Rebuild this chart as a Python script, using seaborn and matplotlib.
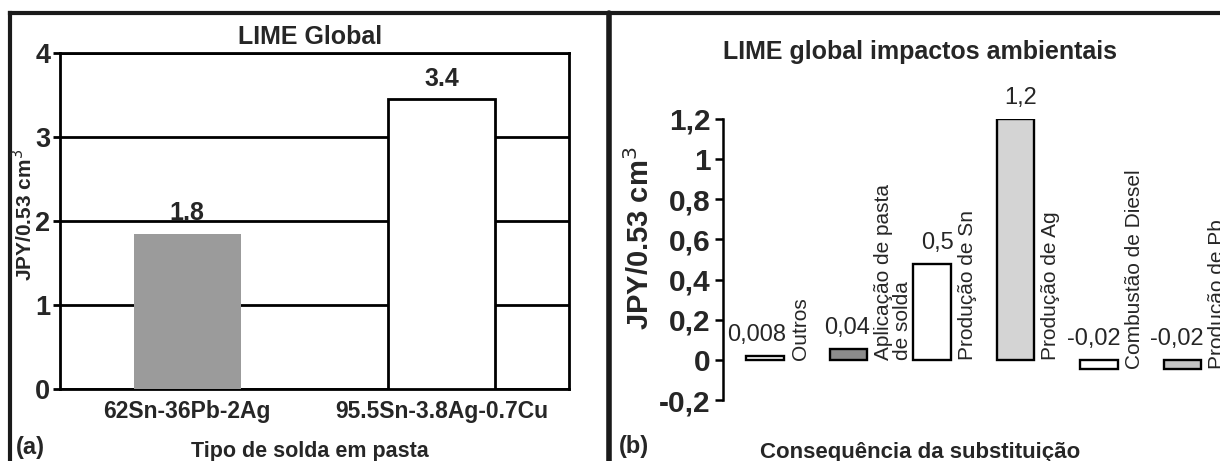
import matplotlib
matplotlib.use("Agg")
import matplotlib.pyplot as plt
from matplotlib.lines import Line2D
import seaborn as sns
import pandas as pd

# ---------------- data ----------------
left_categories = ["62Sn-36Pb-2Ag", "95.5Sn-3.8Ag-0.7Cu"]
left_values = [1.85, 3.45]
left_value_labels = ["1.8", "3.4"]
left_colors = ["#9b9b9b", "#ffffff"]
left_yticks = [0, 1, 2, 3, 4]
left_yticklabels = ["0", "1", "2", "3", "4"]

right_categories = ["Outros", "Aplicação de pasta\nde solda", "Produção de Sn",
                    "Produção de Ag", "Combustão de Diesel", "Produção de Pb"]
right_values = [0.02, 0.055, 0.48, 1.2, -0.045, -0.045]
right_value_labels = ["0,008", "0,04", "0,5", "1,2", "-0,02", "-0,02"]
right_colors = ["#ffffff", "#8c8c8c", "#ffffff", "#d4d4d4", "#ffffff", "#c4c4c4"]
right_yticks = [-0.2, 0, 0.2, 0.4, 0.6, 0.8, 1.0, 1.2]
right_yticklabels = ["-0,2", "0", "0,2", "0,4", "0,6", "0,8", "1", "1,2"]

sns.set_theme(style="white")
plt.rcParams["font.family"] = ["Liberation Sans", "DejaVu Sans"]

W, H = 1220, 461
fig = plt.figure(figsize=(W / 100, H / 100), dpi=100)
fig.patch.set_facecolor("white")


def fx(px):
    return px / W


def fy(py):
    return 1 - py / H


# ---------------- left panel ----------------
axL = fig.add_axes([fx(60), fy(389), fx(569 - 60), (389 - 53) / H])
dfL = pd.DataFrame({"cat": left_categories, "val": left_values})
sns.barplot(data=dfL, x="cat", y="val", hue="cat", order=left_categories,
            palette=dict(zip(left_categories, left_colors)), legend=False,
            width=0.42, ax=axL, zorder=3)
for p, c in zip(axL.patches, left_colors):
    if c == "#ffffff":
        p.set_edgecolor("black")
        p.set_linewidth(2.0)
    else:
        p.set_edgecolor(c)
        p.set_linewidth(0)
axL.set_xlim(-0.5, 1.5)
axL.set_ylim(0, 4)
axL.set_yticks(left_yticks)
axL.set_yticklabels(left_yticklabels, fontsize=19.5, fontweight="bold")
axL.yaxis.grid(True, color="black", linewidth=2.0)
axL.set_axisbelow(True)
for s in axL.spines.values():
    s.set_color("black")
    s.set_linewidth(2.0)
axL.tick_params(axis="y", length=5, width=2, color="black", pad=2, left=True)
axL.tick_params(axis="x", length=0, pad=8)
for t in axL.get_xticklabels():
    t.set_fontsize(16.5)
    t.set_fontweight("bold")
axL.set_xlabel("")
axL.set_ylabel("")
for i, (v, lab) in enumerate(zip(left_values, left_value_labels)):
    axL.annotate(lab, (i, v), xytext=(0, 6), textcoords="offset points",
                 ha="center", va="bottom", fontsize=18, fontweight="bold")

fig.text(fx(310), fy(37), "LIME Global", ha="center", va="center",
         fontsize=18, fontweight="bold")
fig.text(fx(24), fy(215), "JPY/0.53 cm$^{3}$", rotation=90, ha="center",
         va="center", fontsize=15, fontweight="bold")
fig.text(fx(310), fy(451), "Tipo de solda em pasta", ha="center", va="center",
         fontsize=15.5, fontweight="bold")
fig.text(fx(30), fy(447), "(a)", ha="center", va="center", fontsize=17,
         fontweight="bold")

# ---------------- right panel ----------------
axR = fig.add_axes([fx(723), fy(400), fx(1220 - 723), (400 - 119) / H])
dfR = pd.DataFrame({"cat": right_categories, "val": right_values})
bar_w = 0.45
sns.barplot(data=dfR, x="cat", y="val", hue="cat", order=right_categories,
            palette=dict(zip(right_categories, right_colors)), legend=False,
            width=bar_w, ax=axR, edgecolor="black", linewidth=1.7, zorder=3)
axR.set_xlim(-0.5, 5.45)
axR.set_ylim(-0.2, 1.2)
axR.set_yticks(right_yticks)
axR.set_yticklabels(right_yticklabels, fontsize=21.5, fontweight="bold")
axR.set_xticks([])
axR.set_xlabel("")
axR.set_ylabel("")
for k in ["top", "right", "bottom"]:
    axR.spines[k].set_visible(False)
axR.spines["left"].set_color("black")
axR.spines["left"].set_linewidth(1.8)
axR.tick_params(axis="y", length=6, width=1.8, color="black", pad=3, left=True)
axR.patch.set_alpha(0)

for i, (v, lab, cat) in enumerate(zip(right_values, right_value_labels, right_categories)):
    axR.annotate(lab, (i + bar_w / 2, max(v, 0)), xytext=(2, 7),
                 textcoords="offset points", ha="right", va="bottom",
                 fontsize=17, annotation_clip=False)
    axR.annotate(cat, (i + bar_w / 2, min(v, 0)), xytext=(5, 0),
                 textcoords="offset points", rotation=90, ha="left",
                 va="bottom", multialignment="left", fontsize=15,
                 linespacing=1.0, annotation_clip=False)

fig.text(fx(920), fy(52), "LIME global impactos ambientais", ha="center",
         va="center", fontsize=18, fontweight="bold")
fig.text(fx(640), fy(238), "JPY/0.53 cm$^{3}$", rotation=90, ha="center",
         va="center", fontsize=21, fontweight="bold")
fig.text(fx(920), fy(452), "Consequência da substituição", ha="center",
         va="center", fontsize=16, fontweight="bold")
fig.text(fx(634), fy(446), "(b)", ha="center", va="center", fontsize=17,
         fontweight="bold")

# ---------------- panel frames ----------------
frame_kw = dict(color="#1a1a1a", linewidth=3.0, transform=fig.transFigure,
                solid_capstyle="projecting")
fig.add_artist(Line2D([fx(10), fx(1220)], [fy(13.5), fy(13.5)], **frame_kw))
fig.add_artist(Line2D([fx(10), fx(10)], [fy(13.5), fy(470)], **frame_kw))
fig.add_artist(Line2D([fx(609), fx(609)], [fy(13.5), fy(470)],
                      color="#1a1a1a", linewidth=4.0, transform=fig.transFigure))

fig.savefig("out.png", dpi=100, facecolor="white")
